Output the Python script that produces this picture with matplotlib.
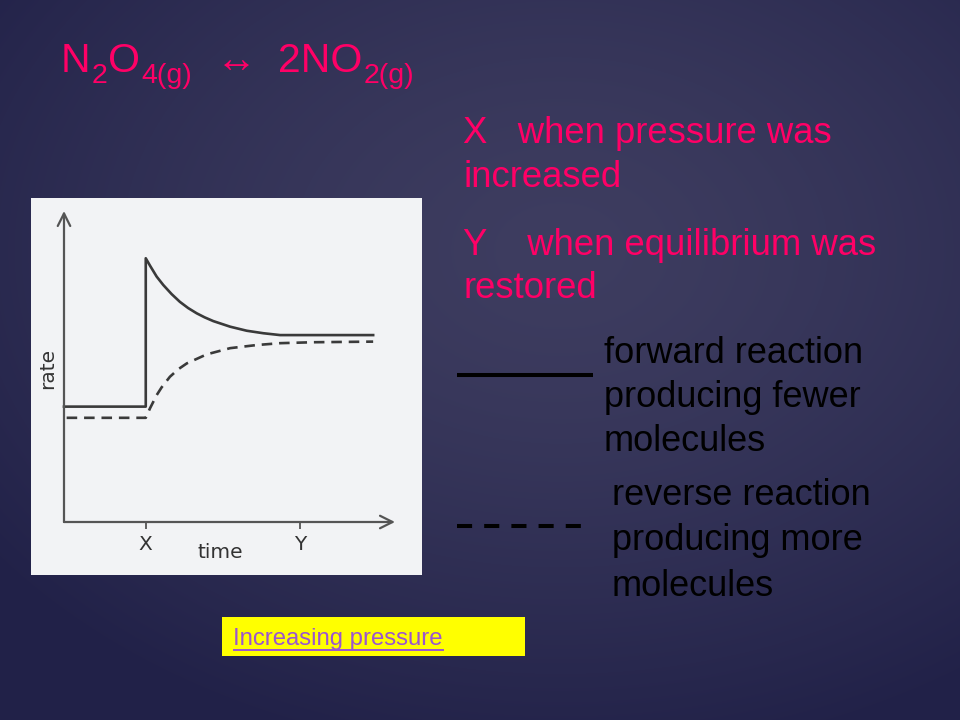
import numpy as np
import matplotlib
matplotlib.use("Agg")
import matplotlib.pyplot as plt
from matplotlib.patches import Rectangle

# ---------------- data ----------------
tick_positions = [2.47, 7.13]
tick_labels = ["X", "Y"]

forward_t = [0.0, 2.47, 2.47, 2.60, 2.80, 3.00, 3.25, 3.50, 3.75, 4.01, 4.25,
             4.51, 5.02, 5.52, 6.02, 6.53, 9.34]
forward_rate = [3.71, 3.71, 8.48, 8.24, 7.89, 7.62, 7.33, 7.08, 6.88, 6.71, 6.58,
                6.46, 6.28, 6.15, 6.07, 6.01, 6.01]

reverse_t = [0.08, 2.47, 2.60, 2.80, 2.95, 3.20, 3.45, 3.71, 4.31, 5.02, 5.82,
             6.53, 7.53, 9.34]
reverse_rate = [3.35, 3.35, 3.66, 4.08, 4.33, 4.67, 4.91, 5.10, 5.39, 5.59, 5.69,
                5.75, 5.78, 5.80]

x_label = "time"
y_label = "rate"
title_parts = [("N", "main", 61), ("2", "sub", 89), ("O", "main", 106),
               ("4(g)", "sub", 138), ("\u2194", "main", 216), ("2NO", "main", 278),
               ("2(g)", "sub", 362)]
pink_lines = ["X   when pressure was", "increased", "Y    when equilibrium was", "restored"]
forward_lines = ["forward reaction", "producing fewer", "molecules"]
reverse_lines = ["reverse reaction", "producing more", "molecules"]
link_text = "Increasing pressure"

# ---------------- figure ----------------
W, H = 960, 720
fig = plt.figure(figsize=(9.6, 7.2), dpi=100)

bg = fig.add_axes([0, 0, 1, 1])
yy, xx = np.mgrid[0:H, 0:W]
d = np.sqrt(((xx - 560) / 720.0) ** 2 + ((yy - 250) / 520.0) ** 2)
d = np.clip(d, 0, 1) ** 1.4
inner = np.array([62, 61, 96]) / 255.0
outer = np.array([33, 33, 72]) / 255.0
img = inner[None, None, :] + (outer - inner)[None, None, :] * d[:, :, None]
bg.imshow(img, extent=[0, W, H, 0], aspect="auto", interpolation="bilinear")
bg.set_xlim(0, W)
bg.set_ylim(H, 0)
bg.axis("off")

FONT = ["Liberation Sans", "DejaVu Sans"]
PINK = "#ff0066"

# title with sub-scripts, laid out left to right without overlaps
renderer = fig.canvas.get_renderer()
prev_right = 0
for txt, kind, xref in title_parts:
    size = 29.5 if kind == "main" else 20.5
    yb = 72 if kind == "main" else 83
    x0 = max(xref, prev_right + 1)
    t = bg.text(x0, yb, txt, fontsize=size, color=PINK, family=FONT, va="baseline")
    bb = t.get_window_extent(renderer)
    prev_right = bb.x1

# pink explanation lines
for txt, yb in zip(pink_lines, [143, 187, 255, 298]):
    bg.text(463, yb, txt, fontsize=26.3, color=PINK, family=FONT, va="baseline")

# legend-like texts
for txt, yb in zip(forward_lines, [363, 407, 451]):
    bg.text(604, yb, txt, fontsize=26, color="black", family=FONT, va="baseline")
for txt, yb in zip(reverse_lines, [505, 550, 596]):
    bg.text(612, yb, txt, fontsize=26, color="black", family=FONT, va="baseline")

bg.plot([457, 593], [375, 375], color="black", lw=2.9, solid_capstyle="butt")
bg.plot([457, 585], [526, 526], color="black", lw=2.9, dashes=(3.75, 3.0),
        dash_capstyle="butt")

# yellow link box
bg.add_patch(Rectangle((222, 617), 303, 39, facecolor="#ffff00", edgecolor="none"))
bg.text(233, 645, link_text, fontsize=17.2, color="#9b55d0", family=FONT, va="baseline")
bg.plot([233, 444], [649.5, 649.5], color="#9b55d0", lw=1.4, solid_capstyle="butt")

# chart panel
bg.add_patch(Rectangle((31, 198), 391, 377, facecolor="#f2f3f5", edgecolor="none"))

# ---------------- chart ----------------
ax = fig.add_axes([64 / W, (H - 522) / H, 331 / W, 311 / H])
ax.set_xlim(0, 10)
ax.set_ylim(0, 10)
ax.patch.set_visible(False)
for s in ax.spines.values():
    s.set_visible(False)

axis_col = "#555555"
arrow = dict(arrowstyle="->,head_length=0.9,head_width=0.45", lw=1.6, color=axis_col,
             shrinkA=0, shrinkB=0)
ax.annotate("", xy=(10, 0), xytext=(0, 0), arrowprops=arrow, annotation_clip=False)
ax.annotate("", xy=(0, 10), xytext=(0, 0), arrowprops=arrow, annotation_clip=False)

line_col = "#3a3a3a"
ax.plot(forward_t, forward_rate, color=line_col, lw=1.9, solid_joinstyle="round",
        clip_on=False)
ax.plot(reverse_t, reverse_rate, color=line_col, lw=1.9, dashes=(4.0, 2.6),
        clip_on=False)

NARROW = ["Liberation Sans Narrow", "DejaVu Sans"]
ax.set_xticks(tick_positions)
ax.set_xticklabels(tick_labels, family=NARROW, fontsize=14.5, color="#333333")
ax.set_yticks([])
ax.tick_params(axis="x", direction="out", length=5, width=1.3, color=axis_col, pad=4)

bg.text(220, 558, x_label, fontsize=14.5, color="#333333",
        family=NARROW, va="baseline", ha="center")
bg.text(48, 368, y_label, fontsize=14.5, color="#333333", rotation=90,
        family=NARROW, va="center", ha="center")

fig.savefig("out.png", dpi=100)
